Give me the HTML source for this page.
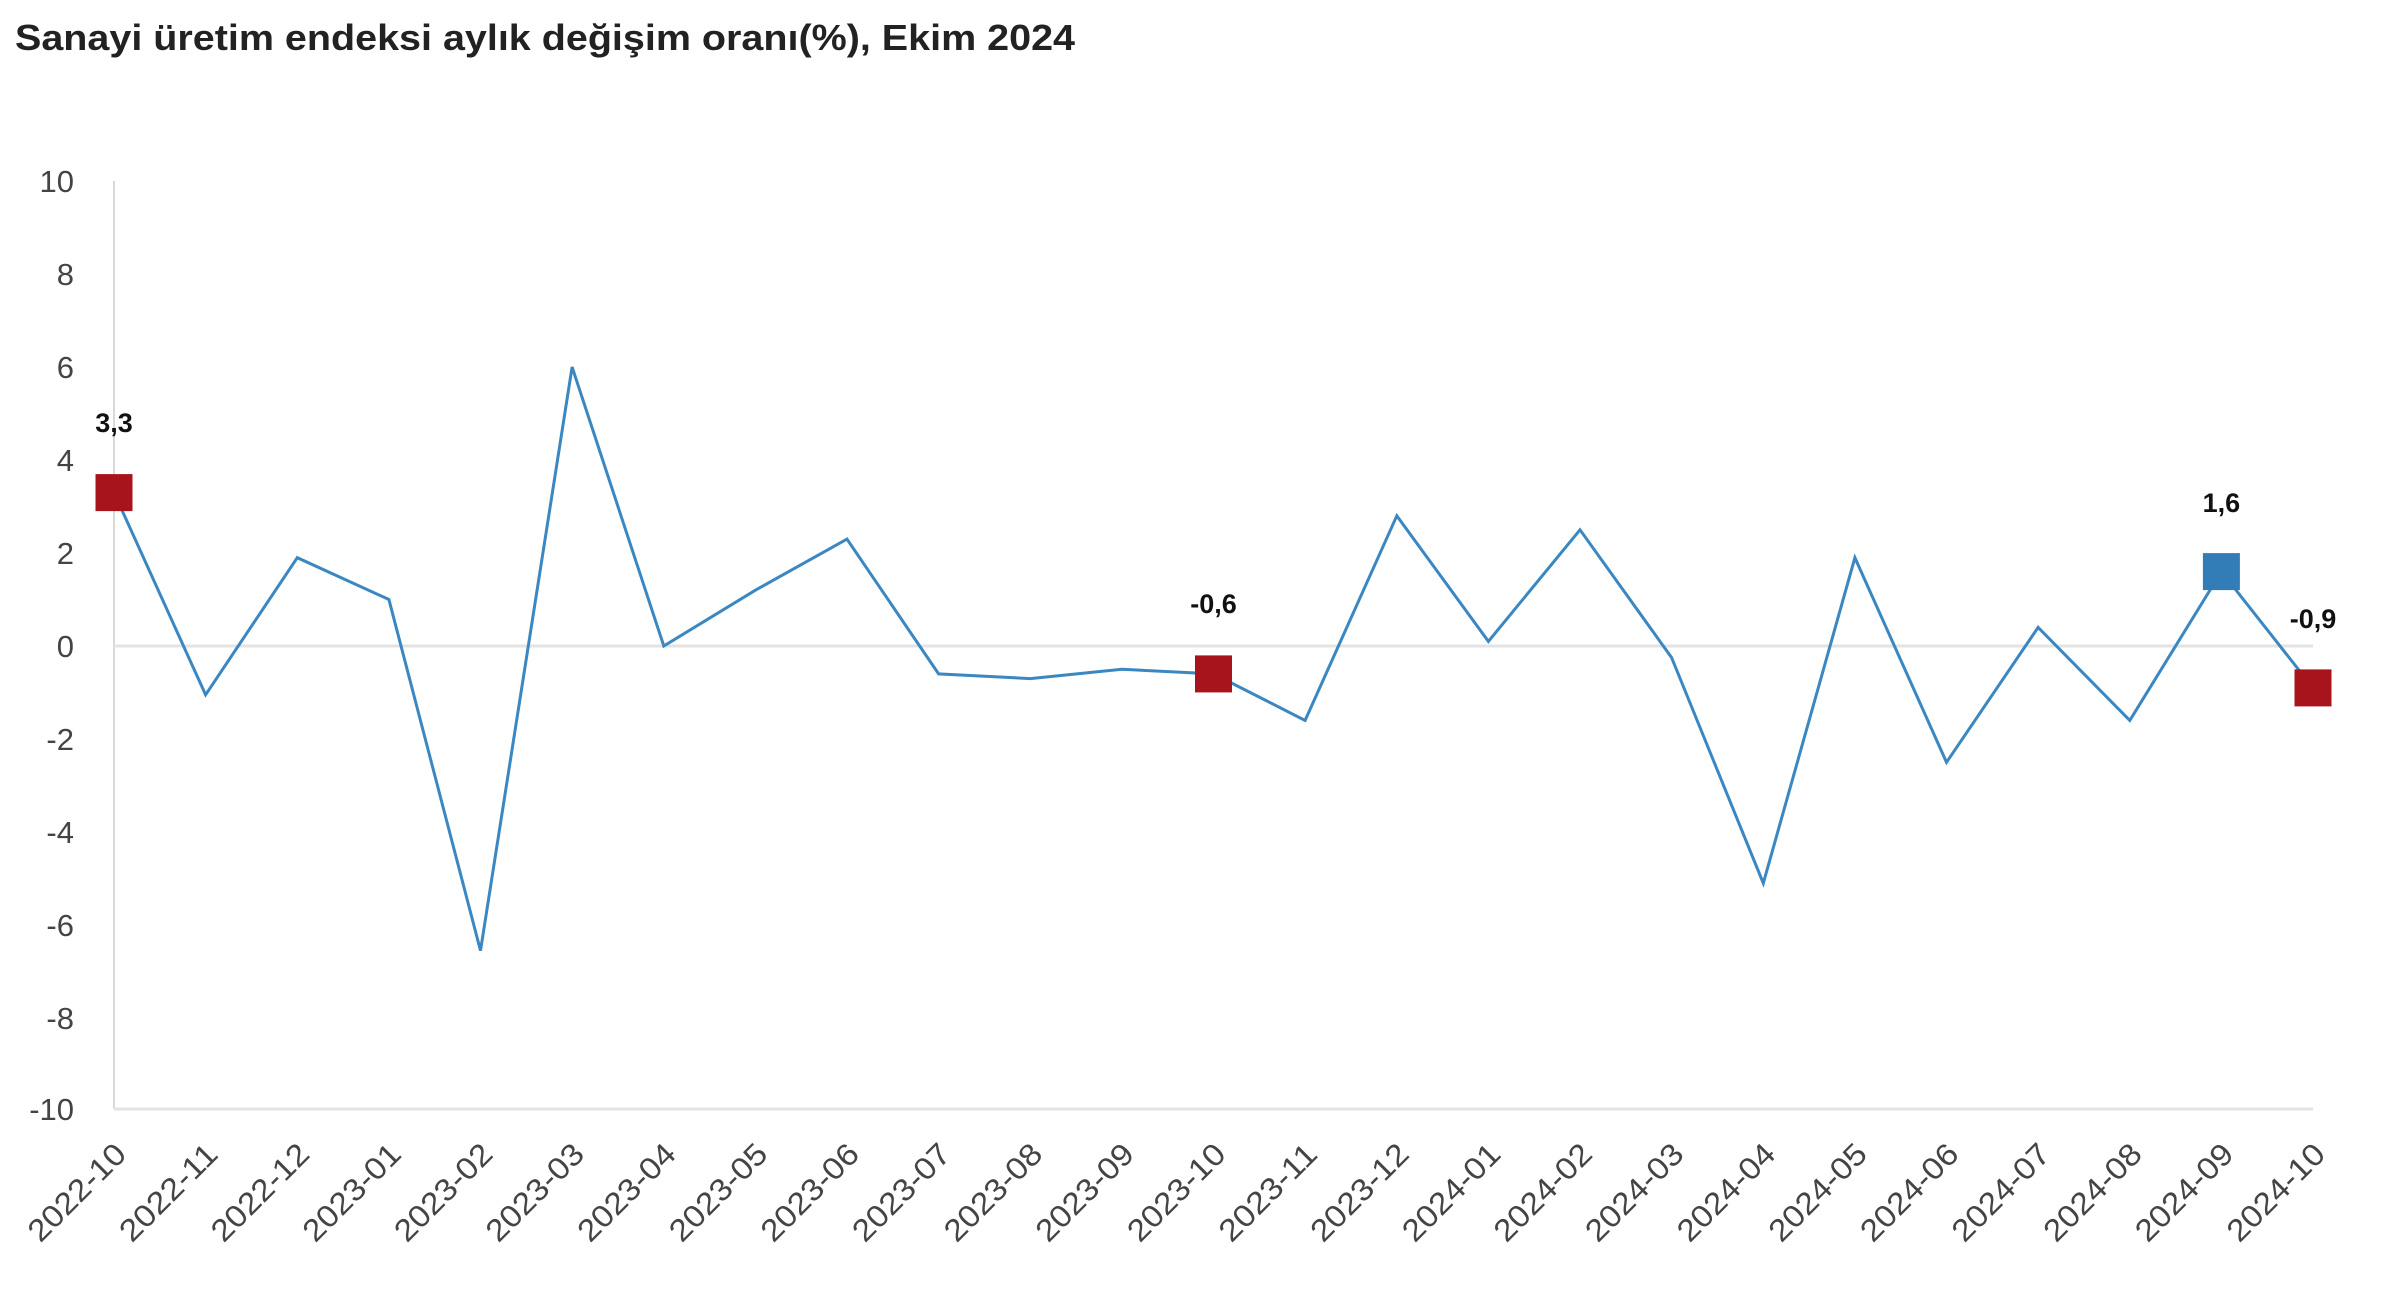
<!DOCTYPE html>
<html><head><meta charset="utf-8"><style>
html,body{margin:0;padding:0;background:#fff;}
svg{display:block;}
</style></head><body>
<svg width="2394" height="1290" xmlns="http://www.w3.org/2000/svg" font-family="Liberation Sans, DejaVu Sans, sans-serif">
<text x="15" y="50" font-size="36" font-weight="bold" fill="#222" textLength="1060" lengthAdjust="spacingAndGlyphs">Sanayi üretim endeksi aylık değişim oranı(%), Ekim 2024</text>
<line x1="114" y1="181" x2="114" y2="1109" stroke="#d9d9d9" stroke-width="2"/>
<line x1="114" y1="1109" x2="2313" y2="1109" stroke="#e3e3e3" stroke-width="3"/>
<line x1="114" y1="646" x2="2313" y2="646" stroke="#e3e3e3" stroke-width="3"/>
<g font-size="31" fill="#444" text-anchor="end">
<text x="74" y="192">10</text><text x="74" y="285">8</text><text x="74" y="378">6</text><text x="74" y="471">4</text><text x="74" y="564">2</text><text x="74" y="657">0</text><text x="74" y="750">-2</text><text x="74" y="843">-4</text><text x="74" y="936">-6</text><text x="74" y="1029">-8</text><text x="74" y="1120">-10</text>
</g>
<polyline fill="none" stroke="#3a87c2" stroke-width="3" points="114,492.6 205.6,694.8 297.3,557.7 388.9,599.5 480.5,950.6 572.1,367 663.8,646 755.4,590.2 847,539.1 938.6,673.9 1030.3,678.6 1121.9,669.3 1213.5,673.9 1305.1,720.4 1396.8,515.8 1488.4,641.4 1580,529.8 1671.6,657.6 1763.3,883.2 1854.9,557.7 1946.5,762.3 2038.1,627.4 2129.8,720.4 2221.4,571.6 2313,687.9"/>
<g font-size="31" fill="#444" text-anchor="end">
<text transform="translate(128,1156) rotate(-45)" textLength="124" lengthAdjust="spacingAndGlyphs">2022-10</text>
<text transform="translate(219.6,1156) rotate(-45)" textLength="124" lengthAdjust="spacingAndGlyphs">2022-11</text>
<text transform="translate(311.3,1156) rotate(-45)" textLength="124" lengthAdjust="spacingAndGlyphs">2022-12</text>
<text transform="translate(402.9,1156) rotate(-45)" textLength="124" lengthAdjust="spacingAndGlyphs">2023-01</text>
<text transform="translate(494.5,1156) rotate(-45)" textLength="124" lengthAdjust="spacingAndGlyphs">2023-02</text>
<text transform="translate(586.1,1156) rotate(-45)" textLength="124" lengthAdjust="spacingAndGlyphs">2023-03</text>
<text transform="translate(677.8,1156) rotate(-45)" textLength="124" lengthAdjust="spacingAndGlyphs">2023-04</text>
<text transform="translate(769.4,1156) rotate(-45)" textLength="124" lengthAdjust="spacingAndGlyphs">2023-05</text>
<text transform="translate(861,1156) rotate(-45)" textLength="124" lengthAdjust="spacingAndGlyphs">2023-06</text>
<text transform="translate(952.6,1156) rotate(-45)" textLength="124" lengthAdjust="spacingAndGlyphs">2023-07</text>
<text transform="translate(1044.3,1156) rotate(-45)" textLength="124" lengthAdjust="spacingAndGlyphs">2023-08</text>
<text transform="translate(1135.9,1156) rotate(-45)" textLength="124" lengthAdjust="spacingAndGlyphs">2023-09</text>
<text transform="translate(1227.5,1156) rotate(-45)" textLength="124" lengthAdjust="spacingAndGlyphs">2023-10</text>
<text transform="translate(1319.1,1156) rotate(-45)" textLength="124" lengthAdjust="spacingAndGlyphs">2023-11</text>
<text transform="translate(1410.8,1156) rotate(-45)" textLength="124" lengthAdjust="spacingAndGlyphs">2023-12</text>
<text transform="translate(1502.4,1156) rotate(-45)" textLength="124" lengthAdjust="spacingAndGlyphs">2024-01</text>
<text transform="translate(1594,1156) rotate(-45)" textLength="124" lengthAdjust="spacingAndGlyphs">2024-02</text>
<text transform="translate(1685.6,1156) rotate(-45)" textLength="124" lengthAdjust="spacingAndGlyphs">2024-03</text>
<text transform="translate(1777.3,1156) rotate(-45)" textLength="124" lengthAdjust="spacingAndGlyphs">2024-04</text>
<text transform="translate(1868.9,1156) rotate(-45)" textLength="124" lengthAdjust="spacingAndGlyphs">2024-05</text>
<text transform="translate(1960.5,1156) rotate(-45)" textLength="124" lengthAdjust="spacingAndGlyphs">2024-06</text>
<text transform="translate(2052.1,1156) rotate(-45)" textLength="124" lengthAdjust="spacingAndGlyphs">2024-07</text>
<text transform="translate(2143.8,1156) rotate(-45)" textLength="124" lengthAdjust="spacingAndGlyphs">2024-08</text>
<text transform="translate(2235.4,1156) rotate(-45)" textLength="124" lengthAdjust="spacingAndGlyphs">2024-09</text>
<text transform="translate(2327,1156) rotate(-45)" textLength="124" lengthAdjust="spacingAndGlyphs">2024-10</text>
</g>
<rect x="95.5" y="474.1" width="37" height="37" fill="#a8141b"/>
<rect x="1195" y="655.4" width="37" height="37" fill="#a8141b"/>
<rect x="2202.9" y="553.1" width="37" height="37" fill="#327db8"/>
<rect x="2294.5" y="669.4" width="37" height="37" fill="#a8141b"/>
<g font-size="27" font-weight="bold" fill="#111" text-anchor="middle">
<text x="114" y="432">3,3</text>
<text x="1213.5" y="613">-0,6</text>
<text x="2221.4" y="512">1,6</text>
<text x="2313" y="628">-0,9</text>
</g>
</svg>
</body></html>
